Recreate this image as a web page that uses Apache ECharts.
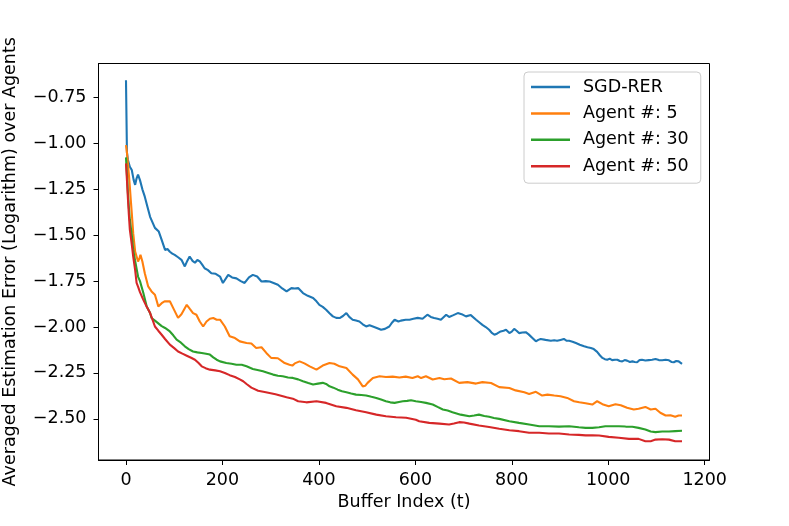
<!DOCTYPE html>
<html>
<head>
<meta charset="utf-8">
<script src="https://cdn.jsdelivr.net/npm/echarts@6/dist/echarts.min.js"></script>
<style>html,body{margin:0;padding:0;background:#fff;}#c{width:789px;height:526px;}</style>
</head>
<body>
<div id="c"></div>
<script>
var seriesNames = ['SGD-RER', 'Agent #: 5', 'Agent #: 30', 'Agent #: 50'];
var xTicks = [0, 200, 400, 600, 800, 1000, 1200];
var yTicks = [-2.5, -2.25, -2.0, -1.75, -1.5, -1.25, -1.0, -0.75];

var sgdRer = [[0,-0.656],[2,-1.05],[4,-1.09],[8,-1.127],[12,-1.145],[16,-1.2],[19,-1.226],[22,-1.19],[25,-1.17],[29,-1.2],[34,-1.25],[39,-1.29],[45,-1.35],[50,-1.4],[55,-1.43],[60,-1.46],[68,-1.48],[74,-1.525],[81,-1.58],[86,-1.575],[91,-1.59],[96,-1.6],[101,-1.607],[108,-1.62],[115,-1.634],[122,-1.67],[127,-1.64],[132,-1.616],[138,-1.64],[143,-1.65],[148,-1.635],[153,-1.643],[158,-1.66],[163,-1.68],[170,-1.69],[177,-1.707],[186,-1.71],[195,-1.725],[201,-1.76],[205,-1.75],[212,-1.716],[220,-1.73],[229,-1.735],[238,-1.75],[246,-1.76],[255,-1.73],[263,-1.716],[272,-1.725],[281,-1.752],[290,-1.75],[298,-1.752],[306,-1.76],[315,-1.77],[324,-1.79],[333,-1.806],[343,-1.788],[350,-1.79],[357,-1.788],[367,-1.815],[377,-1.83],[388,-1.842],[395,-1.86],[401,-1.879],[408,-1.89],[415,-1.906],[422,-1.925],[429,-1.942],[436,-1.95],[443,-1.951],[450,-1.94],[457,-1.924],[463,-1.945],[470,-1.96],[477,-1.965],[484,-1.97],[491,-1.985],[498,-1.997],[505,-1.99],[512,-1.997],[520,-2.005],[529,-2.015],[537,-2.01],[546,-1.997],[552,-1.975],[557,-1.96],[565,-1.97],[570,-1.965],[580,-1.96],[588,-1.96],[596,-1.955],[605,-1.95],[615,-1.955],[625,-1.933],[632,-1.945],[639,-1.951],[646,-1.955],[653,-1.96],[664,-1.933],[670,-1.945],[679,-1.935],[688,-1.924],[696,-1.93],[705,-1.942],[715,-1.935],[726,-1.96],[733,-1.975],[739,-1.988],[746,-2.0],[753,-2.015],[758,-2.03],[764,-2.042],[770,-2.035],[777,-2.024],[783,-2.02],[788,-2.015],[795,-2.033],[800,-2.025],[805,-2.01],[810,-2.02],[815,-2.033],[822,-2.03],[829,-2.028],[835,-2.04],[839,-2.05],[845,-2.065],[850,-2.078],[855,-2.07],[860,-2.065],[870,-2.07],[881,-2.075],[888,-2.072],[894,-2.075],[901,-2.07],[908,-2.065],[914,-2.075],[919,-2.075],[926,-2.08],[933,-2.087],[941,-2.096],[950,-2.105],[957,-2.11],[964,-2.114],[970,-2.12],[977,-2.135],[983,-2.155],[988,-2.168],[993,-2.175],[998,-2.178],[1003,-2.172],[1008,-2.18],[1014,-2.178],[1019,-2.178],[1024,-2.185],[1029,-2.187],[1034,-2.18],[1039,-2.183],[1045,-2.19],[1050,-2.187],[1055,-2.19],[1060,-2.192],[1065,-2.18],[1070,-2.178],[1077,-2.182],[1084,-2.18],[1091,-2.178],[1098,-2.174],[1105,-2.18],[1112,-2.181],[1119,-2.178],[1126,-2.181],[1131,-2.19],[1136,-2.192],[1141,-2.185],[1146,-2.187],[1150,-2.195],[1153,-2.201]];

var agent5 = [[0,-1.009],[2,-1.05],[4,-1.109],[6,-1.17],[8,-1.236],[10,-1.31],[12,-1.38],[15,-1.49],[19,-1.589],[22,-1.616],[25,-1.643],[28,-1.625],[30,-1.607],[34,-1.643],[39,-1.707],[46,-1.779],[53,-1.806],[60,-1.824],[64,-1.86],[67,-1.888],[74,-1.87],[80,-1.86],[84,-1.852],[91,-1.86],[98,-1.897],[108,-1.95],[115,-1.93],[126,-1.879],[132,-1.9],[139,-1.924],[146,-1.933],[153,-1.97],[160,-1.997],[167,-1.97],[174,-1.955],[181,-1.951],[188,-1.96],[195,-1.96],[205,-1.997],[215,-2.05],[226,-2.06],[236,-2.078],[250,-2.087],[260,-2.09],[270,-2.114],[281,-2.11],[291,-2.141],[301,-2.168],[315,-2.17],[329,-2.196],[339,-2.205],[345,-2.21],[350,-2.198],[360,-2.187],[370,-2.198],[381,-2.214],[395,-2.232],[408,-2.21],[422,-2.196],[432,-2.2],[443,-2.214],[457,-2.223],[470,-2.259],[481,-2.285],[491,-2.323],[496,-2.32],[501,-2.304],[512,-2.277],[526,-2.268],[539,-2.272],[553,-2.27],[567,-2.275],[580,-2.27],[594,-2.278],[605,-2.268],[612,-2.278],[622,-2.268],[636,-2.286],[650,-2.278],[660,-2.284],[674,-2.28],[691,-2.304],[708,-2.3],[726,-2.308],[739,-2.3],[757,-2.305],[774,-2.327],[795,-2.332],[808,-2.345],[826,-2.355],[836,-2.364],[850,-2.353],[863,-2.373],[874,-2.368],[888,-2.373],[901,-2.377],[915,-2.386],[929,-2.404],[940,-2.41],[953,-2.415],[967,-2.422],[977,-2.404],[988,-2.42],[1001,-2.431],[1015,-2.42],[1026,-2.426],[1039,-2.44],[1053,-2.449],[1063,-2.445],[1077,-2.435],[1088,-2.449],[1098,-2.445],[1108,-2.467],[1119,-2.482],[1129,-2.48],[1139,-2.489],[1146,-2.482],[1153,-2.482]];

var agent30 = [[0,-1.076],[2,-1.17],[4,-1.27],[6,-1.35],[8,-1.417],[12,-1.5],[15,-1.58],[19,-1.64],[25,-1.725],[29,-1.75],[36,-1.815],[43,-1.888],[50,-1.924],[53,-1.951],[60,-1.965],[64,-1.97],[74,-1.995],[81,-2.005],[91,-2.024],[98,-2.045],[105,-2.069],[114,-2.085],[122,-2.105],[130,-2.12],[139,-2.133],[148,-2.138],[157,-2.141],[166,-2.145],[174,-2.15],[181,-2.165],[188,-2.178],[195,-2.187],[208,-2.196],[219,-2.2],[229,-2.205],[240,-2.205],[250,-2.214],[263,-2.228],[275,-2.235],[284,-2.241],[295,-2.25],[305,-2.259],[315,-2.265],[325,-2.268],[336,-2.275],[346,-2.277],[357,-2.285],[367,-2.295],[378,-2.305],[388,-2.313],[398,-2.308],[408,-2.304],[415,-2.31],[422,-2.323],[430,-2.33],[439,-2.341],[448,-2.35],[457,-2.355],[467,-2.362],[477,-2.368],[488,-2.37],[498,-2.373],[509,-2.38],[519,-2.386],[529,-2.395],[539,-2.404],[548,-2.41],[557,-2.413],[566,-2.408],[574,-2.404],[583,-2.402],[591,-2.399],[601,-2.404],[612,-2.408],[622,-2.413],[636,-2.422],[646,-2.435],[657,-2.449],[667,-2.455],[677,-2.464],[694,-2.477],[712,-2.486],[722,-2.482],[732,-2.477],[743,-2.484],[753,-2.489],[763,-2.495],[774,-2.5],[795,-2.513],[815,-2.522],[836,-2.531],[857,-2.54],[877,-2.54],[898,-2.542],[919,-2.54],[939,-2.546],[953,-2.549],[967,-2.549],[981,-2.546],[994,-2.54],[1008,-2.54],[1022,-2.54],[1036,-2.542],[1050,-2.543],[1063,-2.549],[1077,-2.558],[1088,-2.569],[1098,-2.572],[1112,-2.569],[1126,-2.569],[1139,-2.567],[1153,-2.565]];

var agent50 = [[0,-1.109],[2,-1.2],[4,-1.3],[6,-1.39],[8,-1.47],[12,-1.55],[15,-1.616],[19,-1.69],[22,-1.76],[25,-1.78],[29,-1.81],[36,-1.852],[43,-1.89],[50,-1.924],[55,-1.96],[60,-1.997],[67,-2.02],[74,-2.042],[81,-2.065],[91,-2.096],[100,-2.115],[108,-2.133],[117,-2.145],[126,-2.156],[135,-2.167],[143,-2.178],[150,-2.195],[157,-2.214],[165,-2.224],[174,-2.232],[185,-2.236],[195,-2.241],[205,-2.25],[215,-2.262],[226,-2.272],[236,-2.285],[243,-2.295],[250,-2.31],[260,-2.33],[274,-2.347],[290,-2.355],[310,-2.366],[333,-2.382],[346,-2.39],[357,-2.404],[374,-2.41],[395,-2.404],[415,-2.413],[436,-2.431],[457,-2.44],[477,-2.453],[498,-2.464],[519,-2.477],[539,-2.486],[560,-2.491],[581,-2.494],[601,-2.505],[608,-2.513],[629,-2.522],[650,-2.526],[670,-2.531],[680,-2.525],[691,-2.518],[701,-2.52],[712,-2.526],[732,-2.536],[753,-2.544],[774,-2.554],[795,-2.562],[815,-2.567],[836,-2.576],[857,-2.576],[877,-2.58],[898,-2.58],[919,-2.585],[939,-2.587],[953,-2.59],[967,-2.59],[981,-2.591],[1001,-2.598],[1022,-2.603],[1043,-2.609],[1063,-2.609],[1077,-2.622],[1088,-2.622],[1098,-2.613],[1112,-2.611],[1126,-2.613],[1139,-2.622],[1153,-2.622]];

var colors = ['#1f77b4', '#ff7f0e', '#2ca02c', '#d62728'];
var allData = [sgdRer, agent5, agent30, agent50];

var font = 'DejaVu Sans';
var fs = 17.5;
var chart = echarts.init(document.getElementById('c'), null, {renderer: 'canvas'});
var option = {
  animation: false,
  backgroundColor: '#fff',
  textStyle: {fontFamily: font, color: '#000'},
  grid: {left: 98.5, right: 79.5, top: 63.5, bottom: 66, show: true, borderColor: '#000', borderWidth: 1, containLabel: false, outerBoundsMode: 'none'},
  legend: {
    data: seriesNames.map(function(n){ return {name: n, icon: 'rect'}; }),
    orient: 'vertical',
    left: 524, top: 72,
    padding: [5, 12, 7, 7],
    itemWidth: 39, itemHeight: 2.5, itemGap: 6.4,
    backgroundColor: 'rgba(255,255,255,0.8)',
    borderColor: '#cccccc', borderWidth: 1, borderRadius: 4,
    textStyle: {fontFamily: font, fontSize: fs, color: '#000', lineHeight: 20, padding: [0, 0, 0, 8]}
  },
  xAxis: {
    type: 'value', min: -57, max: 1210,
    name: 'Buffer Index (t)', nameLocation: 'middle', nameGap: 33,
    nameTextStyle: {fontFamily: font, fontSize: fs, color: '#000'},
    axisLine: {show: true, onZero: false, lineStyle: {color: '#000', width: 1}},
    axisTick: {show: true, length: 5, lineStyle: {color: '#000', width: 1}, customValues: xTicks},
    axisLabel: {fontFamily: font, fontSize: fs, color: '#000', margin: 11, customValues: xTicks, formatter: function(v){ return String(v); }},
    splitLine: {show: false}
  },
  yAxis: {
    type: 'value', min: -2.724, max: -0.565,
    name: 'Averaged Estimation Error (Logarithm) over Agents', nameLocation: 'middle', nameGap: 79,
    nameTextStyle: {fontFamily: font, fontSize: fs, color: '#000'},
    axisLine: {show: true, onZero: false, lineStyle: {color: '#000', width: 1}},
    axisTick: {show: true, length: 5, lineStyle: {color: '#000', width: 1}, customValues: yTicks},
    axisLabel: {fontFamily: font, fontSize: fs, color: '#000', margin: 12, customValues: yTicks, formatter: function(v){ return v.toFixed(2).replace('-', '\u2212'); }},
    splitLine: {show: false}
  },
  series: seriesNames.map(function(n, i){
    return {
      name: n, type: 'line', data: allData[i],
      symbol: 'none', showSymbol: false,
      lineStyle: {color: colors[i], width: 2.1},
      itemStyle: {color: colors[i]},
      z: 2 + i
    };
  })
};
chart.setOption(option);
</script>
</body>
</html>
